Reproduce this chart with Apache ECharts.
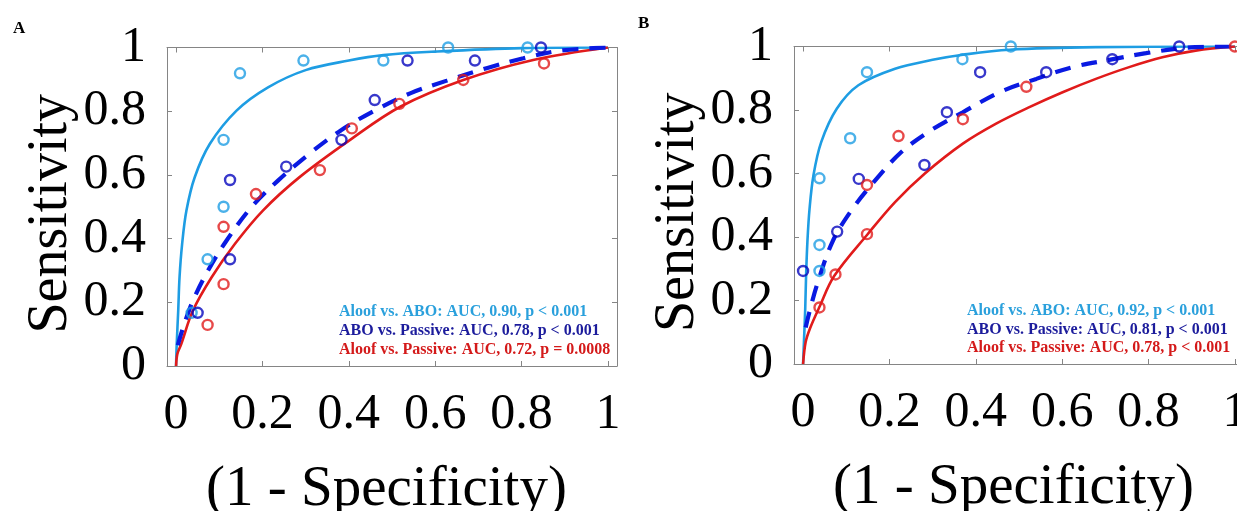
<!DOCTYPE html>
<html><head><meta charset="utf-8">
<script src="https://cdn.jsdelivr.net/npm/echarts@6/dist/echarts.min.js"></script>
<style>html,body{margin:0;padding:0;background:#fff}#c{width:1237px;height:511px}</style>
</head><body><div id="c"></div>
<script>
// ---- tick labels ----
const xTicks = [0, 0.2, 0.4, 0.6, 0.8, 1];
const yTicks = [0, 0.2, 0.4, 0.6, 0.8, 1];
const panelLetters = ['A', 'B'];
const xName = '(1 - Specificity)';
const yName = 'Sensitivity';

// ---- Panel A: observed points [1-specificity, sensitivity] ----
const A_aloofABO_pts = [[0.036,0.167],[0.073,0.335],[0.11,0.5],[0.11,0.71],[0.148,0.919],[0.295,0.959],[0.48,0.959],[0.63,1.0],[0.814,1.0]];
const A_aboPassive_pts = [[0.05,0.167],[0.125,0.335],[0.125,0.584],[0.255,0.626],[0.383,0.71],[0.46,0.835],[0.536,0.959],[0.692,0.959],[0.845,1.0]];
const A_aloofPassive_pts = [[0.073,0.129],[0.11,0.257],[0.11,0.437],[0.185,0.54],[0.333,0.615],[0.407,0.746],[0.517,0.823],[0.665,0.898],[0.852,0.95]];
// ---- Panel A: fitted ROC curves ----
const A_aloofABO_fit = [[0,0],[0.0015,0.069],[0.005,0.174],[0.008,0.278],[0.014,0.383],[0.024,0.488],[0.043,0.592],[0.078,0.697],[0.14,0.802],[0.213,0.875],[0.3,0.929],[0.4,0.959],[0.48,0.976],[0.6,0.987],[0.8,0.998],[1,1]];
const A_aboPassive_fit = [[0.004,0.065],[0.016,0.12],[0.039,0.205],[0.074,0.3],[0.117,0.394],[0.174,0.498],[0.236,0.582],[0.31,0.668],[0.383,0.741],[0.457,0.8],[0.542,0.856],[0.627,0.896],[0.719,0.935],[0.804,0.966],[0.889,0.99],[1,1]];
const A_aloofPassive_fit = [[0,0],[0.003,0.038],[0.012,0.069],[0.039,0.174],[0.082,0.278],[0.136,0.383],[0.201,0.488],[0.286,0.593],[0.403,0.71],[0.519,0.814],[0.665,0.898],[0.827,0.961],[1,1]];
const A_notes = ['Aloof vs. ABO: AUC, 0.90, p < 0.001','ABO vs. Passive: AUC, 0.78, p < 0.001','Aloof vs. Passive: AUC, 0.72, p = 0.0008'];

// ---- Panel B: observed points ----
const B_aloofABO_pts = [[0.038,0.293],[0.038,0.375],[0.038,0.585],[0.109,0.711],[0.148,0.919],[0.369,0.96],[0.481,1.0]];
const B_aboPassive_pts = [[0,0.293],[0.079,0.417],[0.129,0.583],[0.281,0.627],[0.333,0.793],[0.41,0.919],[0.563,0.919],[0.716,0.96],[0.871,1.0]];
const B_aloofPassive_pts = [[0.038,0.178],[0.075,0.282],[0.148,0.409],[0.148,0.564],[0.221,0.718],[0.37,0.771],[0.517,0.873],[1,1]];
// ---- Panel B: fitted ROC curves ----
const B_aloofABO_fit = [[0,0],[0.002,0.069],[0.005,0.174],[0.007,0.279],[0.01,0.384],[0.015,0.489],[0.024,0.594],[0.042,0.699],[0.078,0.804],[0.128,0.878],[0.213,0.93],[0.3,0.958],[0.37,0.974],[0.478,0.99],[0.678,0.998],[1,1]];
const B_aboPassive_fit = [[0.006,0.115],[0.014,0.16],[0.032,0.248],[0.068,0.385],[0.112,0.484],[0.165,0.575],[0.227,0.667],[0.296,0.736],[0.37,0.793],[0.455,0.856],[0.54,0.898],[0.624,0.935],[0.709,0.958],[0.794,0.979],[0.886,0.996],[1,1]];
const B_aloofPassive_fit = [[0,0],[0.006,0.069],[0.016,0.112],[0.037,0.177],[0.072,0.277],[0.149,0.408],[0.213,0.51],[0.282,0.6],[0.37,0.694],[0.447,0.757],[0.524,0.809],[0.601,0.856],[0.678,0.898],[0.755,0.935],[0.832,0.966],[0.909,0.987],[1,1]];
const B_notes = ['Aloof vs. ABO: AUC, 0.92, p < 0.001','ABO vs. Passive: AUC, 0.81, p < 0.001','Aloof vs. Passive: AUC, 0.78, p < 0.001'];

// ---- styling ----
const FONT = "'Liberation Serif','Times New Roman',serif";
const C_LIGHT = '#1E9DE3', C_DARK = '#0606BE', C_DASH = '#0A1AE2', C_RED = '#E11B1B';
const T_LIGHT = '#2AA0DC', T_DARK = '#1C1C9C', T_RED = '#D41A1A';
const AXC = '#858585';

const chart = echarts.init(document.getElementById('c'), null, {renderer: 'canvas'});

const grids = [
  {left: 167, top: 47.5, width: 450, height: 318.5, containLabel: false, outerBoundsMode: 'none'},
  {left: 794, top: 46.5, width: 450, height: 317.5, containLabel: false, outerBoundsMode: 'none'}
];
const xAxes = [], yAxes = [];
grids.forEach((g, i) => {
  const common = {gridIndex: i, type: 'value', min: -0.021, max: 1.021,
    axisLine: {show: true, onZero: false, lineStyle: {color: AXC, width: 1}},
    splitLine: {show: false}};
  xAxes.push(Object.assign({}, common, {
    position: 'bottom',
    axisTick: {show: true, inside: true, length: 5, customValues: xTicks, lineStyle: {color: AXC}},
    axisLabel: {show: true, customValues: xTicks, margin: 24, color: '#000', fontFamily: FONT, fontSize: 50},
    name: xName, nameLocation: 'middle', nameGap: 96,
    nameTextStyle: {color: '#000', fontFamily: FONT, fontSize: 57, padding: [0, 11, 0, 0]}
  }));
  xAxes.push(Object.assign({}, common, {
    position: 'top',
    axisTick: {show: true, inside: true, length: 5, customValues: xTicks, lineStyle: {color: AXC}},
    axisLabel: {show: false}
  }));
  const ycommon = {gridIndex: i, type: 'value', min: 0, max: 1, interval: 0.2,
    axisLine: {show: true, onZero: false, lineStyle: {color: AXC, width: 1}},
    axisTick: {show: true, inside: true, length: 5, lineStyle: {color: AXC}},
    splitLine: {show: false}};
  yAxes.push(Object.assign({}, ycommon, {
    position: 'left',
    axisLabel: {show: true, margin: 21, color: '#000', fontFamily: FONT, fontSize: 50},
    name: yName, nameLocation: 'middle', nameGap: 88,
    nameTextStyle: {color: '#000', fontFamily: FONT, fontSize: 56, padding: [0, 14, 0, 0]}
  }));
  yAxes.push(Object.assign({}, ycommon, {position: 'right', axisLabel: {show: false}}));
});

function lineSeries(p, data, color, dashed) {
  return {type: 'line', xAxisIndex: p * 2, yAxisIndex: p * 2, data: data,
    showSymbol: false, smooth: 0.35, silent: true,
    lineStyle: dashed ? {color: color, width: 4.2, type: [16, 11], cap: 'butt'} : {color: color, width: 2.6},
    z: 2};
}
function ptSeries(p, data, color) {
  return {type: 'scatter', xAxisIndex: p * 2, yAxisIndex: p * 2, data: data,
    symbol: 'circle', symbolSize: 10, silent: true,
    itemStyle: {color: 'rgba(0,0,0,0)', borderColor: color, borderWidth: 2.4}, z: 3};
}

const series = [
  lineSeries(0, A_aloofABO_fit, C_LIGHT, false),
  lineSeries(0, A_aloofPassive_fit, C_RED, false),
  lineSeries(0, A_aboPassive_fit, C_DASH, true),
  ptSeries(0, A_aloofABO_pts, C_LIGHT),
  ptSeries(0, A_aboPassive_pts, C_DARK),
  ptSeries(0, A_aloofPassive_pts, C_RED),
  lineSeries(1, B_aloofABO_fit, C_LIGHT, false),
  lineSeries(1, B_aloofPassive_fit, C_RED, false),
  lineSeries(1, B_aboPassive_fit, C_DASH, true),
  ptSeries(1, B_aloofABO_pts, C_LIGHT),
  ptSeries(1, B_aboPassive_pts, C_DARK),
  ptSeries(1, B_aloofPassive_pts, C_RED)
];

const noteColors = [T_LIGHT, T_DARK, T_RED];
const graphic = [];
function notes(lines, x, ys) {
  lines.forEach((t, k) => graphic.push({type: 'text', x: x, y: ys[k], silent: true,
    style: {text: t, fill: noteColors[k], font: 'bold 16px ' + FONT, align: 'left', verticalAlign: 'middle'}}));
}
notes(A_notes, 339, [311.5, 331, 349.5]);
notes(B_notes, 967, [310.5, 330, 348]);
graphic.push({type: 'text', x: 13, y: 29, silent: true, style: {text: panelLetters[0], fill: '#000', font: 'bold 17px ' + FONT, verticalAlign: 'middle'}});
graphic.push({type: 'text', x: 638, y: 24, silent: true, style: {text: panelLetters[1], fill: '#000', font: 'bold 17px ' + FONT, verticalAlign: 'middle'}});

chart.setOption({
  animation: false,
  backgroundColor: '#fff',
  grid: grids,
  xAxis: xAxes,
  yAxis: yAxes,
  series: series,
  graphic: graphic
});
</script></body></html>
